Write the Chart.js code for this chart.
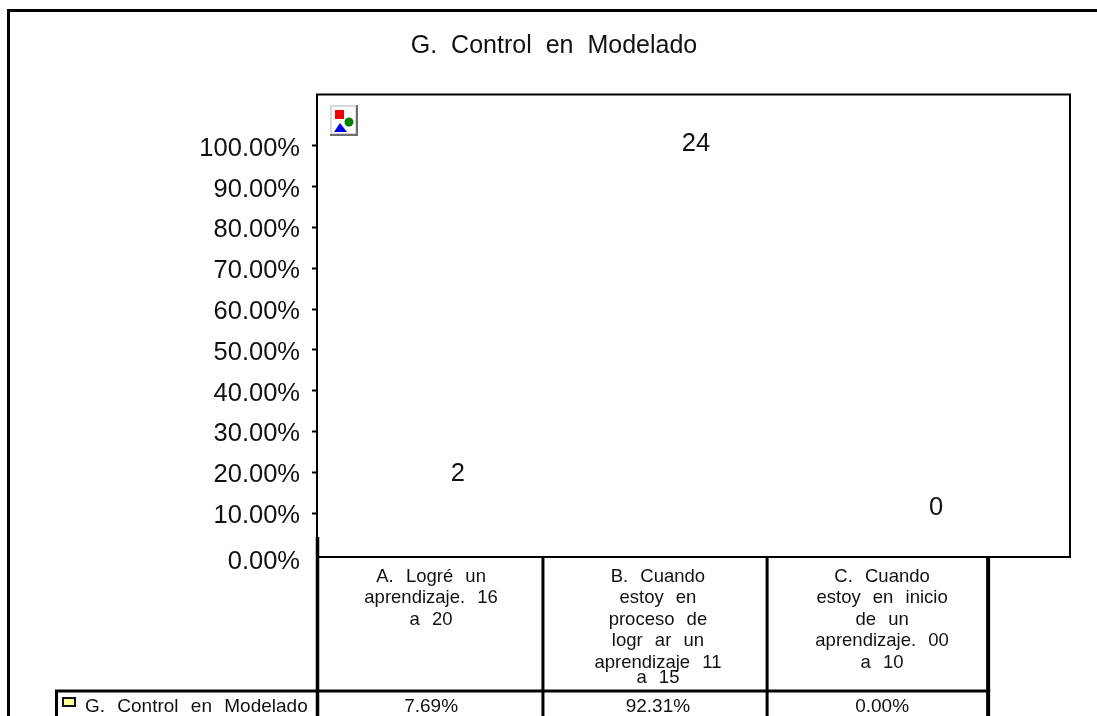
<!DOCTYPE html>
<html>
<head>
<meta charset="utf-8">
<style>html,body{margin:0;padding:0;background:#fff}canvas{display:block}</style>
<script src="https://cdn.jsdelivr.net/npm/chart.js@4/dist/chart.umd.min.js"></script>
</head>
<body>
<canvas id="c" width="1097" height="716"></canvas>
<script>
const chartTitle = 'G. Control en Modelado';
const seriesName = 'G. Control en Modelado';
const categories = [
  ['A. Logré un', 'aprendizaje. 16', 'a 20'],
  ['B. Cuando', 'estoy en', 'proceso de', 'logr ar un', 'aprendizaje 11'],
  ['C. Cuando', 'estoy en inicio', 'de un', 'aprendizaje. 00', 'a 10']
];
const categoryBTail = 'a 15';
const percents = [7.69, 92.31, 0.00];
const counts = [2, 24, 0];
const categoryCentres = [0.51, 1.524, 2.526];
const columnEdges = [0, 1.01, 2.012, 3];
const countLabelX = [0.63, 1.694, 2.767];
const countLabelY = [19.5, 100.4, 11.2];
const yTicks = [0, 10, 20, 30, 40, 50, 60, 70, 80, 90, 100];

const FONT = '"Liberation Sans", Arial, sans-serif';
const INK = '#000';

function setSpacing(ctx){ ctx.wordSpacing = '7px'; }

function line(ctx, x1, y1, x2, y2, w){
  ctx.strokeStyle = INK; ctx.lineWidth = w;
  ctx.beginPath(); ctx.moveTo(x1, y1); ctx.lineTo(x2, y2); ctx.stroke();
}

const frameAndTable = {
  id: 'frameAndTable',
  beforeLayout(chart){ setSpacing(chart.ctx); },
  beforeDraw(chart){
    const ctx = chart.ctx, a = chart.chartArea;
    setSpacing(ctx);
    ctx.save();
    ctx.fillStyle = '#fff'; ctx.fillRect(0, 0, chart.width, chart.height);
    // outer frame
    line(ctx, 8.5, chart.height, 8.5, 10.5, 3);
    line(ctx, 7, 10.5, chart.width, 10.5, 3);
    // plot frame
    line(ctx, a.left, a.bottom, a.left, a.top, 2);
    line(ctx, a.left - 1, a.top, a.right + 1, a.top, 2);
    line(ctx, a.right, a.top, a.right, a.bottom, 2);
    line(ctx, a.left, a.bottom, a.right + 1, a.bottom, 2);
    ctx.restore();
  },
  afterDraw(chart){
    const ctx = chart.ctx, a = chart.chartArea, xs = chart.scales.x, ys = chart.scales.y;
    const H = chart.height, rowTop = 691;
    ctx.save();
    // table lines
    line(ctx, a.left + 0.5, 537, a.left + 0.5, H, 3.5);
    columnEdges.forEach((e, i) => {
      if (i === 0) return;
      const px = xs.getPixelForValue(e);
      line(ctx, px, a.bottom, px, H, i === 3 ? 4 : 3);
    });
    line(ctx, 55, rowTop, xs.getPixelForValue(columnEdges[3]) + 2, rowTop, 3);
    line(ctx, 56.5, rowTop, 56.5, H, 3);
    // series key
    ctx.fillStyle = '#ffff99'; ctx.fillRect(63, 698, 12, 8);
    ctx.strokeStyle = '#111'; ctx.lineWidth = 2; ctx.strokeRect(63, 698, 12, 8);
    // bottom row text
    ctx.fillStyle = '#111'; ctx.textBaseline = 'middle'; ctx.textAlign = 'left';
    ctx.font = '19px ' + FONT;
    ctx.fillText(seriesName, 85, 707);
    ctx.textAlign = 'center';
    percents.forEach((v, i) => {
      ctx.fillText(v.toFixed(2) + '%', xs.getPixelForValue(categoryCentres[i]), 707);
    });
    // tail line of the second category sits tighter than the axis line height
    ctx.font = '18.5px ' + FONT;
    ctx.fillText(categoryBTail, xs.getPixelForValue(categoryCentres[1]), 678);
    // count labels
    ctx.font = '25.5px ' + FONT;
    counts.forEach((n, i) => {
      ctx.fillText(String(n), xs.getPixelForValue(countLabelX[i]), ys.getPixelForValue(countLabelY[i]));
    });
    // embedded object icon
    ctx.fillStyle = '#6e6e6e'; ctx.fillRect(330, 105, 28, 31);
    ctx.fillStyle = '#d8d8d8'; ctx.fillRect(330, 105, 26, 29);
    ctx.fillStyle = '#fff'; ctx.fillRect(332, 107, 23, 26);
    ctx.fillStyle = '#f00000'; ctx.fillRect(335, 110, 9, 9);
    ctx.fillStyle = '#008000'; ctx.beginPath(); ctx.arc(349, 122, 4.5, 0, Math.PI * 2); ctx.fill();
    ctx.fillStyle = '#0000e0'; ctx.beginPath(); ctx.moveTo(340, 123); ctx.lineTo(347, 132); ctx.lineTo(334, 132); ctx.closePath(); ctx.fill();
    ctx.restore();
  }
};

new Chart(document.getElementById('c'), {
  type: 'bar',
  data: {
    datasets: [{
      label: seriesName,
      data: percents.map((v, i) => ({ x: categoryCentres[i], y: v })),
      backgroundColor: 'rgba(255,255,255,0)',
      borderWidth: 0,
      barThickness: 100
    }]
  },
  options: {
    responsive: false,
    animation: false,
    layout: { padding: { left: 38, right: 27, top: 0, bottom: 0 } },
    plugins: {
      legend: { display: false },
      tooltip: { enabled: false },
      title: {
        display: true,
        text: chartTitle,
        color: '#111',
        font: { family: FONT, size: 25, weight: 'normal', lineHeight: 1.2 },
        padding: { top: 31, bottom: 33.5 }
      }
    },
    scales: {
      x: {
        type: 'linear',
        offset: false,
        min: 0,
        max: 3.366,
        afterBuildTicks(s){ s.ticks = categoryCentres.map(v => ({ value: v })); },
        afterFit(s){ s.height = 159; },
        grid: { display: false, drawTicks: false, offset: false },
        border: { display: false },
        ticks: {
          autoSkip: false,
          maxRotation: 0,
          minRotation: 0,
          padding: 9,
          color: '#111',
          font: { family: FONT, size: 18.5, lineHeight: '21.5px' },
          callback(v){ return categories[categoryCentres.indexOf(v)] || ''; }
        }
      },
      y: {
        type: 'linear',
        min: -0.78,
        max: 112.57,
        afterBuildTicks(s){ s.ticks = yTicks.map(v => ({ value: v })); },
        afterFit(s){ s.width = 279; },
        grid: {
          drawOnChartArea: false,
          tickLength: 5,
          tickWidth: 2,
          tickColor: c => (c.tick && c.tick.value === 0 ? 'rgba(0,0,0,0)' : INK)
        },
        border: { display: false },
        ticks: {
          padding: 12,
          labelOffset: 3,
          color: '#111',
          font: { family: FONT, size: 25.5, lineHeight: '10px' },
          callback(v){
            const t = v.toFixed(2) + '%';
            return v === 0 ? ['', t] : t;
          }
        }
      }
    }
  },
  plugins: [frameAndTable]
});
</script>
</body>
</html>
